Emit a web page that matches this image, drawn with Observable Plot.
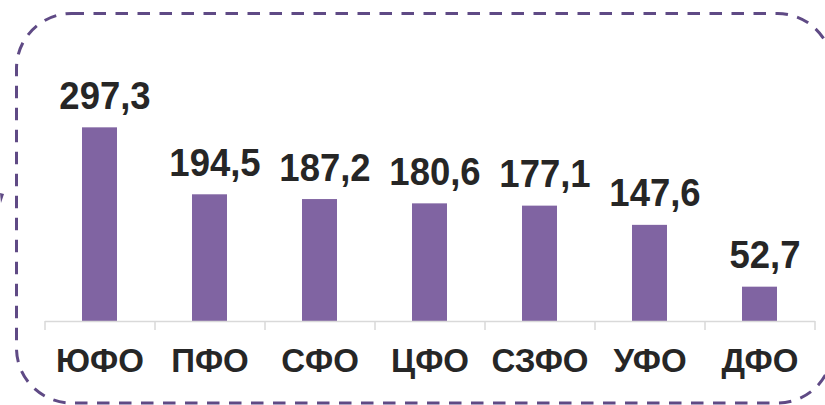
<!DOCTYPE html>
<html>
<head>
<meta charset="utf-8">
<script src="https://cdn.jsdelivr.net/npm/d3@7"></script>
<script src="https://cdn.jsdelivr.net/npm/@observablehq/plot@0.6"></script>
<style>
  html, body { margin: 0; padding: 0; background: #fff; }
  #wrap { position: relative; width: 825px; height: 405px; overflow: hidden; }
  #wrap svg { position: absolute; left: 0; top: 0; }
</style>
</head>
<body>
<div id="wrap"></div>
<script>
const categories = ["ЮФО", "ПФО", "СФО", "ЦФО", "СЗФО", "УФО", "ДФО"];
const values = [297.3, 194.5, 187.2, 180.6, 177.1, 147.6, 52.7];
const valueLabels = ["297,3", "194,5", "187,2", "180,6", "177,1", "147,6", "52,7"];

const data = categories.map((c, i) => ({cat: c, value: values[i], label: valueLabels[i]}));

const W = 825, H = 405;
const mTop = 93, mBottom = 84, mLeft = 45, mRight = 10;
const step = (W - mLeft - mRight) / categories.length;
const font = "Liberation Sans, Arial, sans-serif";

const chart = Plot.plot({
  width: W,
  height: H,
  marginTop: mTop,
  marginBottom: mBottom,
  marginLeft: mLeft,
  marginRight: mRight,
  style: {fontFamily: font, background: "transparent", overflow: "visible"},
  x: {domain: categories, paddingInner: 0.68, paddingOuter: 0.34, axis: null},
  y: {domain: [0, 350], axis: null},
  marks: [
    Plot.barY(data, {x: "cat", y: "value", fill: "#8064A2"}),
    Plot.ruleY([0], {stroke: "#D9D9D9", strokeWidth: 1.5, strokeOpacity: 1}),
    Plot.ruleX(categories, {x: d => d, dx: -step / 2, stroke: "#D9D9D9", strokeWidth: 1.5, insetTop: H - mBottom - mTop, insetBottom: -9}),
    Plot.ruleX([categories[categories.length - 1]], {x: d => d, dx: step / 2, stroke: "#D9D9D9", strokeWidth: 1.5, insetTop: H - mBottom - mTop, insetBottom: -9}),
    Plot.text(data, {x: "cat", y: "value", text: "label", dx: 5, dy: -19, lineAnchor: "bottom", fontSize: 36.5, fontWeight: "bold", fill: "#262626", className: "vlabel"}),
    Plot.text(data, {x: "cat", y: 0, text: "cat", dy: 50, lineAnchor: "bottom", fontSize: 33, fontWeight: "bold", fill: "#262626"})
  ]
});

// value labels in the reference are slightly taller than wide: stretch vertically about baseline
chart.querySelectorAll(".vlabel text").forEach(t => {
  const tr = t.getAttribute("transform");
  if (tr && /translate/.test(tr) && !t.getAttribute("y")) {
    t.setAttribute("transform", tr + " scale(1,1.07)");
  } else {
    const x = +(t.getAttribute("x") || 0), y = +(t.getAttribute("y") || 0);
    t.setAttribute("transform", (tr || "") + ` translate(${x},${y}) scale(1,1.07) translate(${-x},${-y})`);
  }
});

const wrap = document.getElementById("wrap");
wrap.appendChild(chart);

// decorative dashed rounded border
const ns = "http://www.w3.org/2000/svg";
const deco = document.createElementNS(ns, "svg");
deco.setAttribute("width", W);
deco.setAttribute("height", H);
const rect = document.createElementNS(ns, "rect");
rect.setAttribute("x", 16.5);
rect.setAttribute("y", 13.5);
rect.setAttribute("width", 816);
rect.setAttribute("height", 389.5);
rect.setAttribute("rx", 55);
rect.setAttribute("ry", 55);
rect.setAttribute("fill", "none");
rect.setAttribute("stroke", "#5F4A85");
rect.setAttribute("stroke-width", 3);
rect.setAttribute("stroke-dasharray", "12.5 9.5");
deco.appendChild(rect);
const tri = document.createElementNS(ns, "polygon");
tri.setAttribute("points", "0,193 4,194 1,203");
tri.setAttribute("fill", "#5F4A85");
deco.appendChild(tri);
wrap.appendChild(deco);
</script>
</body>
</html>
